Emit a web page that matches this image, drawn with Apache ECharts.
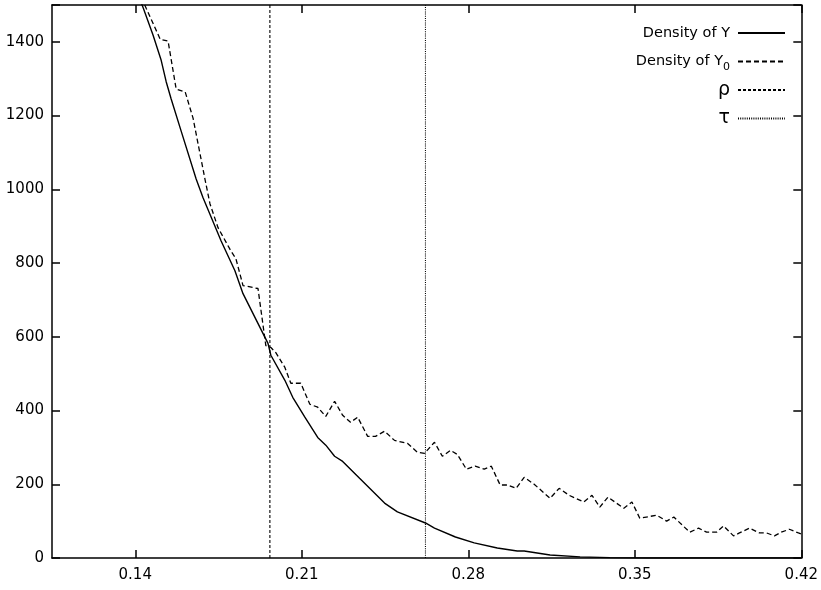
<!DOCTYPE html>
<html>
<head>
<meta charset="utf-8">
<script src="https://cdn.jsdelivr.net/npm/echarts@6/dist/echarts.min.js"></script>
<style>
  html, body { margin: 0; padding: 0; background: #fff; }
  #chart { width: 821px; height: 590px; }
</style>
</head>
<body>
<div id="chart"></div>
<script>
// density of Y (solid curve)
const densYX = [0.134, 0.1434, 0.1475, 0.1509, 0.1530, 0.1551, 0.1593, 0.1656, 0.1685, 0.1761, 0.1819, 0.1853,
  0.1958, 0.1970, 0.2029, 0.2062, 0.2113, 0.2167, 0.2201, 0.2238, 0.2272, 0.2343, 0.2448, 0.2502, 0.2620,
  0.2658, 0.2746, 0.2825, 0.2922, 0.3006, 0.3035, 0.3144, 0.3270, 0.3395, 0.3551, 0.42]
const densYVal = [1650, 1491, 1418, 1350, 1292, 1245, 1158, 1028, 977, 860, 779, 717,
  582, 550, 482, 436, 382, 327, 306, 276, 262, 216, 149, 125, 95,
  81, 57, 41, 27, 19, 19, 8, 3, 1, 0, 0]

// density of Y0 (dashed curve)
const densY0X = [0.140, 0.1446, 0.1505, 0.1538, 0.1572, 0.1610, 0.1643, 0.1693, 0.1714, 0.1748, 0.1802, 0.1823,
  0.1853, 0.1916, 0.1949, 0.1970, 0.1991, 0.2029, 0.2054, 0.2096, 0.2134, 0.2167, 0.2201, 0.2238,
  0.2272, 0.2305, 0.2335, 0.2377, 0.2410, 0.2448, 0.2490, 0.2544, 0.2586, 0.2616, 0.2658, 0.2691,
  0.2725, 0.2754, 0.2792, 0.2829, 0.2867, 0.2897, 0.2934, 0.2964, 0.3001, 0.3035, 0.3077, 0.3144,
  0.3182, 0.3224, 0.3286, 0.3320, 0.3353, 0.3387, 0.3454, 0.3488, 0.3521, 0.3592, 0.3634, 0.3664,
  0.3731, 0.3768, 0.3802, 0.3844, 0.3873, 0.3915, 0.3940, 0.3982, 0.4024, 0.4054, 0.4087, 0.4116,
  0.4150, 0.4188, 0.42]
const densY0Val = [1560, 1491, 1407, 1402, 1272, 1264, 1193, 1028, 961, 896, 833, 812,
  739, 731, 576, 571, 557, 517, 474, 474, 417, 409, 384, 425,
  387, 368, 382, 330, 330, 344, 319, 311, 287, 284, 314, 276,
  292, 281, 241, 249, 241, 249, 198, 198, 189, 219, 200, 162,
  189, 170, 152, 170, 138, 165, 135, 152, 108, 116, 100, 111,
  70, 81, 70, 70, 87, 60, 68, 81, 68, 68, 60, 70,
  78, 68, 65]

// thresholds
const rhoX = 0.1966
const tauX = 0.262

const xTicks = [0.14, 0.21, 0.28, 0.35, 0.42]
const xMin = 0.105
const xMax = 0.42
const yMax = 1500

const font = 'DejaVu Sans'

function pairs(xs, ys) {
  return xs.map((x, i) => [x, ys[i]])
}

const chart = echarts.init(document.getElementById('chart'), null, { renderer: 'canvas' })

const baseX = {
  type: 'value',
  min: xMin,
  max: xMax,
  axisLine: { show: true, onZero: false, lineStyle: { color: '#000', width: 1.5 } },
  axisTick: { show: true, inside: true, length: 8, customValues: xTicks, lineStyle: { color: '#000', width: 1.5 } },
  splitLine: { show: false }
}
const baseY = {
  type: 'value',
  min: 0,
  max: yMax,
  interval: 200,
  axisLine: { show: true, onZero: false, lineStyle: { color: '#000', width: 1.5 } },
  axisTick: { show: true, inside: true, length: 8, lineStyle: { color: '#000', width: 1.5 } },
  splitLine: { show: false }
}

const option = {
  animation: false,
  backgroundColor: '#fff',
  textStyle: { fontFamily: font },
  grid: { left: 52, right: 16, top: 5, bottom: 32, containLabel: false },
  legend: {
    orient: 'vertical',
    right: 30,
    top: 17,
    align: 'right',
    itemWidth: 47,
    itemHeight: 14,
    itemGap: 6.5,
    itemStyle: { opacity: 0 },
    formatter: name => {
      if (name === 'Density of Y0') return '{t0|Density of Y}{sub|0}'
      if (name === 'ρ' || name === 'τ') return '{g|' + name + '}'
      return '{t|' + name + '}'
    },
    textStyle: {
      color: '#000', fontSize: 14.5, fontFamily: font, lineHeight: 22,
      rich: {
        t: { fontSize: 14.5, fontFamily: font, color: '#000', lineHeight: 22, padding: [0, 3, 0, 0] },
        t0: { fontSize: 14.5, fontFamily: font, color: '#000', lineHeight: 22 },
        sub: { fontSize: 11, fontFamily: font, color: '#000', lineHeight: 11, verticalAlign: 'bottom', padding: [0, 3, 0, 0] },
        g: { fontSize: 19, fontFamily: font, color: '#000', lineHeight: 22, padding: [0, 3, 0, 0] }
      }
    },
    data: ['Density of Y', 'Density of Y0', 'ρ', 'τ']
  },
  xAxis: [
    Object.assign({}, baseX, {
      position: 'bottom',
      axisLabel: {
        show: true, customValues: xTicks, color: '#000', fontSize: 15, fontFamily: font, margin: 10,
        formatter: v => v.toFixed(2)
      }
    }),
    Object.assign({}, baseX, { position: 'top', axisLabel: { show: false } })
  ],
  yAxis: [
    Object.assign({}, baseY, {
      position: 'left',
      axisLabel: {
        show: true, color: '#000', fontSize: 15, fontFamily: font, margin: 8,
        formatter: v => (v === yMax ? '' : String(v))
      }
    }),
    Object.assign({}, baseY, { position: 'right', axisLabel: { show: false } })
  ],
  series: [
    {
      name: 'Density of Y',
      type: 'line',
      data: pairs(densYX, densYVal),
      showSymbol: false,
      symbol: 'none',
      clip: true,
      lineStyle: { color: '#000', width: 1.4, type: 'solid' },
      itemStyle: { color: '#000' }
    },
    {
      name: 'Density of Y0',
      type: 'line',
      data: pairs(densY0X, densY0Val),
      showSymbol: false,
      symbol: 'none',
      clip: true,
      lineStyle: { color: '#000', width: 1.3, type: [5, 3] },
      itemStyle: { color: '#000' }
    },
    {
      name: 'ρ',
      type: 'line',
      data: [[rhoX, 0], [rhoX, yMax]],
      showSymbol: false,
      symbol: 'none',
      lineStyle: { color: '#000', width: 1.1, type: [3, 2] },
      itemStyle: { color: '#000' }
    },
    {
      name: 'τ',
      type: 'line',
      data: [[tauX, 0], [tauX, yMax]],
      showSymbol: false,
      symbol: 'none',
      lineStyle: { color: '#000', width: 1.1, type: [1, 1.2] },
      itemStyle: { color: '#000' }
    }
  ]
}

chart.setOption(option)
</script>
</body>
</html>
